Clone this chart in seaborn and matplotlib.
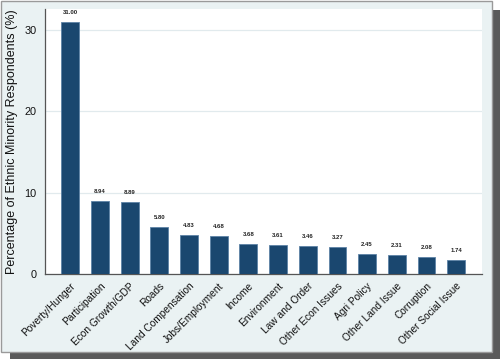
import numpy as np
import pandas as pd
import matplotlib.pyplot as plt
import seaborn as sns
from matplotlib.patches import Rectangle

# Data
issues = ["Poverty/Hunger", "Participation", "Econ Growth/GDP", "Roads",
          "Land Compensation", "Jobs/Employment", "Income", "Environment",
          "Law and Order", "Other Econ Issues", "Agri Policy", "Other Land Issue",
          "Corruption", "Other Social Issue"]
pct = [31.00, 8.94, 8.89, 5.80, 4.83, 4.68, 3.68, 3.61, 3.46, 3.27, 2.45, 2.31, 2.08, 1.74]
yticks = [0, 10, 20, 30]

df = pd.DataFrame({"issue": issues, "pct": pct})

sns.set_theme(style="white")
plt.rcParams["font.family"] = ["Liberation Sans", "DejaVu Sans"]

fig = plt.figure(figsize=(5, 3.59), dpi=100)
fig.patch.set_facecolor("white")

# drop shadow and panel
W, H = 500, 359
fig.patches.append(Rectangle((10 / W, 0), 490 / W, 1 - 10 / H, transform=fig.transFigure,
                             facecolor="#5a5a5a", edgecolor="none", zorder=-2))
fig.patches.append(Rectangle((0.5 / W, 7 / H), 491 / W, 1 - 7.5 / H, transform=fig.transFigure,
                             facecolor="#eaf2f3", edgecolor="#9a9a9a", linewidth=1, zorder=-1))

ax = fig.add_axes([45 / W, (H - 274) / H, (482 - 45) / W, (274 - 9) / H])
ax.set_zorder(2)
ax.set_facecolor("white")

sns.barplot(data=df, x="issue", y="pct", color="#1a476f", saturation=1, width=0.6,
            edgecolor="#5d82a6", linewidth=0.6, ax=ax, zorder=3)
ax.bar_label(ax.containers[0], fmt="%.2f", fontsize=4.3, fontweight="bold",
             padding=5, color="#222222")

ax.set_ylim(0, 32.6)
ax.set_xlim(-0.85, 13.87)
ax.set_yticks(yticks)
ax.set_yticklabels([str(t) for t in yticks], fontsize=7.8, color="#111111")
ax.yaxis.grid(True, color="#e1eaed", linewidth=0.9)
ax.set_axisbelow(True)

ax.set_xticks(range(len(issues)))
ax.set_xticklabels(issues, rotation=45, ha="right", rotation_mode="anchor",
                   fontsize=7.3, color="#111111")
ax.tick_params(axis="y", length=4, width=0.8, color="#555555", pad=2)
ax.tick_params(axis="x", length=0, pad=5)

ax.set_xlabel("")
ax.set_ylabel("Percentage of Ethnic Minority Respondents (%)", fontsize=9,
              labelpad=5, color="#111111")

for s in ["top", "right"]:
    ax.spines[s].set_visible(False)
for s in ["left", "bottom"]:
    ax.spines[s].set_color("#555555")
    ax.spines[s].set_linewidth(0.9)

fig.savefig("out.png", dpi=100)
